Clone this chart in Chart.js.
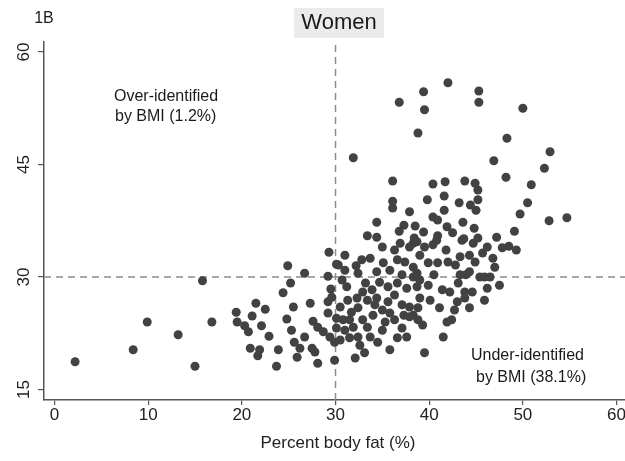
<!DOCTYPE html>
<html>
<head>
<meta charset="utf-8">
<script src="https://cdn.jsdelivr.net/npm/chart.js@4.4.1/dist/chart.umd.min.js"></script>
<style>
  html, body { margin: 0; padding: 0; background: #fff; overflow: hidden; }
  #wrap { width: 625px; height: 461px; overflow: hidden; }
</style>
</head>
<body>
<div id="wrap"><canvas id="c" width="640" height="461"></canvas></div>
<script>
// percent body fat (x) and BMI (y) of each woman
const fatPct = [
  2.2, 8.4, 9.9, 13.2, 15.0, 15.8, 16.8, 19.4, 19.5, 29.3,
  24.9, 26.7, 30.1, 25.2, 24.4, 29.2, 29.5, 29.2, 27.3, 25.5,
  21.5, 22.5, 21.1, 24.8, 27.6, 29.2, 20.3, 22.1, 20.7, 22.9,
  25.3, 28.1, 28.7, 29.4, 29.9, 26.7, 25.6, 26.2, 27.5, 27.8,
  20.9, 21.9, 21.7, 23.9, 25.9, 28.1, 23.7, 29.9,
  35.0, 36.9, 37.9, 30.3, 31.0, 32.8, 33.7, 32.2, 35.1, 36.6,
  37.4, 38.3, 30.7, 31.2, 32.4, 34.4, 35.8, 37.1, 38.3, 38.7,
  29.6, 32.9, 33.9, 34.7, 35.6, 36.6, 37.6, 32.3, 33.4, 34.4,
  35.6, 30.5, 32.4, 35.0, 37.1, 37.9, 30.8, 31.5, 32.9, 34.0,
  35.8, 36.3, 30.1, 38.3, 30.1, 31.0, 31.9, 33.4, 35.0, 37.1,
  37.6, 31.5, 32.4, 33.7, 36.6, 30.5, 35.8, 33.1, 32.1,
  38.3, 39.5, 40.4, 40.8, 43.3, 45.7, 46.8, 44.9, 39.9, 40.9,
  42.0, 38.7, 43.3, 45.4, 46.5, 39.9, 41.4, 42.2, 43.1, 43.8,
  44.6, 46.2, 39.0, 45.9, 43.0, 44.3, 38.8, 37.9, 39.3, 41.9,
  42.4, 41.5, 39.5, 43.5, 44.7, 46.2, 47.0,
  42.0, 39.4, 45.3, 36.8, 45.3, 39.5, 50.0, 38.8, 48.3, 31.9,
  52.9, 46.9, 52.3, 48.2, 50.9, 36.1, 40.4, 41.7, 43.8, 44.9,
  45.2, 41.6, 39.8, 45.2, 36.1, 36.1, 37.9, 43.2, 44.4, 45.0,
  41.6, 40.4, 40.9, 34.4, 37.3, 38.5, 43.6, 50.5, 49.7, 54.7,
  52.8, 36.8, 39.4, 41.9, 42.5, 44.8, 49.1, 33.4, 34.4, 38.4,
  40.9, 43.7, 45.2, 47.2, 38.7, 47.8, 48.5, 49.3, 43.8, 45.9,
  43.9, 38.8,
  31.3, 33.2, 34.2, 36.3, 31.7, 35.3, 32.6, 34.5, 37.3, 39.0,
  40.5, 41.8, 42.8, 44.3, 47.5, 40.1, 41.1, 42.7, 31.0, 36.3,
  39.0, 44.3
];
const bmi = [
  18.7, 20.3, 24.0, 22.3, 18.1, 29.5, 24.0, 25.3, 24.0, 33.3,
  31.5, 30.5, 31.7, 29.2, 27.9, 30.1, 28.4, 26.7, 26.5, 26.0,
  26.5, 25.7, 24.8, 24.4, 24.1, 25.2, 23.5, 23.5, 22.7, 22.1,
  22.9, 23.3, 22.7, 22.0, 21.3, 22.0, 21.3, 20.5, 20.5, 20.0,
  20.5, 20.3, 19.5, 20.3, 19.3, 18.5, 18.1, 18.9,
  34.0, 34.5, 34.0, 31.6, 30.9, 32.3, 32.5, 31.5, 31.9, 32.3,
  32.0, 31.3, 29.6, 28.7, 30.5, 30.7, 30.9, 30.3, 30.0, 28.7,
  27.3, 28.0, 28.3, 29.3, 28.7, 29.2, 28.5, 27.2, 26.9, 27.2,
  26.7, 26.0, 25.9, 25.6, 26.3, 26.0, 24.3, 24.3, 24.3, 24.9,
  25.2, 24.3, 24.5, 24.9, 23.2, 22.9, 23.3, 23.3, 22.9, 23.2,
  22.0, 21.9, 22.0, 22.0, 21.9, 21.6, 20.3, 19.9, 19.2,
  34.5, 34.0, 34.3, 34.9, 32.7, 33.2, 32.5, 32.0, 31.9, 31.9,
  32.0, 30.5, 30.3, 30.0, 30.0, 28.9, 28.3, 28.0, 29.2, 28.0,
  28.0, 28.5, 27.2, 26.9, 26.7, 25.9, 25.9, 24.7, 23.6, 24.0,
  24.3, 22.0, 19.9, 34.9, 34.5, 34.0, 31.3,
  55.9, 54.7, 54.8, 53.3, 53.3, 52.3, 52.5, 49.2, 48.5, 45.9,
  46.7, 45.5, 44.5, 43.3, 42.3, 42.8, 42.4, 42.7, 42.8, 42.5,
  41.6, 40.8, 40.3, 40.3, 40.1, 39.2, 38.7, 39.9, 39.6, 38.9,
  38.9, 38.0, 37.6, 37.3, 36.9, 36.8, 37.3, 39.9, 38.4, 37.9,
  37.5, 36.1, 36.0, 36.7, 35.9, 36.5, 36.1, 35.5, 35.3, 35.2,
  35.5, 35.1, 35.2, 35.3, 34.7, 33.9, 34.1, 33.6, 27.2, 30.0,
  30.3, 24.3,
  26.9, 29.2, 26.3, 27.6, 25.3, 24.0, 20.9, 21.3, 24.9, 29.6,
  30.3, 33.6, 31.6, 32.9, 28.9, 26.9, 25.9, 25.6, 32.9, 33.6,
  32.9, 30.7
];

const xTicks = [0, 10, 20, 30, 40, 50, 60];
const yTicks = [15, 30, 45, 60];
const fatCutoff = 30;
const bmiCutoff = 30;
const xRange = [-1.12, 61.65];
const yRange = [13.6, 61.33];

const FONT = "'Liberation Sans', Arial, sans-serif";
const points = fatPct.map((x, i) => ({ x: x, y: bmi[i] }));

// title box, panel label and the two quadrant notes
const decorations = {
  id: "decorations",
  beforeDatasetsDraw(chart) {
    const ctx = chart.ctx;
    ctx.save();
    ctx.fillStyle = "#ebebeb";
    ctx.fillRect(294, 8, 90, 30);
    ctx.restore();
  },
  afterDraw(chart) {
    const ctx = chart.ctx;
    ctx.save();
    ctx.fillStyle = "#1a1a1a";
    ctx.textBaseline = "middle";
    ctx.textAlign = "center";
    ctx.font = "22px " + FONT;
    ctx.fillText("Women", 339, 23);
    ctx.font = "16px " + FONT;
    ctx.fillText("1B", 44, 19);
    ctx.textAlign = "left";
    ctx.fillText("Over-identified", 114, 97);
    ctx.fillText("by BMI (1.2%)", 115, 117);
    ctx.fillText("Under-identified", 471, 356);
    ctx.fillText("by BMI (38.1%)", 476, 378);
    ctx.restore();
  }
};

new Chart(document.getElementById("c"), {
  type: "scatter",
  data: {
    datasets: [
      {
        label: "Women",
        data: points,
        backgroundColor: "#424242",
        borderColor: "#424242",
        borderWidth: 0,
        pointRadius: 4.5,
        pointHoverRadius: 4.5
      },
      {
        type: "line",
        label: "fat cutoff",
        data: [{ x: fatCutoff, y: yRange[0] }, { x: fatCutoff, y: yRange[1] }],
        borderColor: "#8c8c8c",
        borderWidth: 1.5,
        borderDash: [7, 5],
        pointRadius: 0,
        fill: false
      },
      {
        type: "line",
        label: "bmi cutoff",
        data: [{ x: xRange[0], y: bmiCutoff }, { x: xRange[1], y: bmiCutoff }],
        borderColor: "#8c8c8c",
        borderWidth: 1.5,
        borderDash: [7, 5],
        pointRadius: 0,
        fill: false
      }
    ]
  },
  options: {
    responsive: false,
    animation: false,
    devicePixelRatio: 1,
    layout: { padding: { top: 42, right: 8, bottom: 0, left: 0 } },
    plugins: { legend: { display: false }, title: { display: false }, tooltip: { enabled: false } },
    scales: {
      x: {
        type: "linear",
        min: xRange[0],
        max: xRange[1],
        afterBuildTicks: s => { s.ticks = xTicks.map(v => ({ value: v })); },
        afterFit: s => { s.height = 61; s.paddingLeft = 0; s.paddingRight = 0; },
        ticks: { font: { size: 17, family: FONT }, color: "#222", padding: 0, maxRotation: 0 },
        grid: { drawOnChartArea: false, drawTicks: true, tickLength: 5, color: "#555", lineWidth: 1.2 },
        border: { display: true, color: "#555", width: 1.5 },
        title: { display: true, text: "Percent body fat (%)", font: { size: 17, family: FONT }, color: "#222", padding: { top: 0, bottom: 7 } }
      },
      y: {
        type: "linear",
        min: yRange[0],
        max: yRange[1],
        afterBuildTicks: s => { s.ticks = yTicks.map(v => ({ value: v })); },
        afterFit: s => { s.width = 44; s.paddingTop = 0; s.paddingBottom = 0; },
        ticks: { font: { size: 17, family: FONT }, color: "#222", padding: 4, minRotation: 90, maxRotation: 90, crossAlign: "center" },
        grid: { drawOnChartArea: false, drawTicks: true, tickLength: 6, color: "#555", lineWidth: 1.2 },
        border: { display: true, color: "#555", width: 1.5 }
      }
    }
  },
  plugins: [decorations]
});
</script>
</body>
</html>
